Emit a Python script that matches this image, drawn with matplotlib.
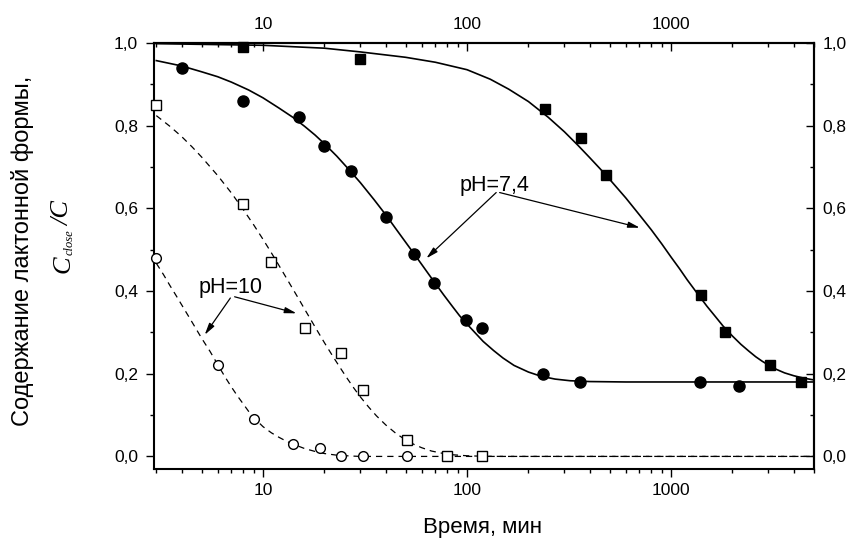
import matplotlib
matplotlib.use("Agg")
import matplotlib.pyplot as plt
from matplotlib.ticker import LogLocator, FixedLocator, FuncFormatter, NullFormatter

plt.rcParams["font.family"] = ["Liberation Sans", "DejaVu Sans"]

# measured points, pH=7.4 (filled) and pH=10 (open)
sq_filled_t = [8, 30, 240, 360, 480, 1400, 1830, 3050, 4330]
sq_filled_c = [0.99, 0.96, 0.84, 0.77, 0.68, 0.39, 0.30, 0.22, 0.18]

ci_filled_t = [4, 8, 15, 20, 27, 40, 55, 69, 99, 119, 237, 356, 1390, 2160]
ci_filled_c = [0.94, 0.86, 0.82, 0.75, 0.69, 0.58, 0.49, 0.42, 0.33, 0.31, 0.20, 0.18, 0.18, 0.17]

sq_open_t = [3, 8, 11, 16, 24, 31, 51, 80, 119]
sq_open_c = [0.85, 0.61, 0.47, 0.31, 0.25, 0.16, 0.04, 0.0, 0.0]

ci_open_t = [3, 6, 9, 14, 19, 24, 31, 51]
ci_open_c = [0.48, 0.22, 0.09, 0.03, 0.02, 0.0, 0.0, 0.0]

# fitted curves
fit_sq_filled_t = [3, 10, 20, 30, 50, 70, 100, 130, 160, 200, 250, 300, 350, 400, 450, 500,
                   600, 700, 800, 900, 1000, 1100, 1200, 1350, 1500, 1650, 1800, 2000, 2200,
                   2400, 2600, 2800, 3000, 3300, 3600, 4000, 4500, 5000]
fit_sq_filled_c = [0.998, 0.994, 0.987, 0.978, 0.965, 0.953, 0.935, 0.912, 0.888, 0.858,
                   0.820, 0.785, 0.752, 0.722, 0.695, 0.670, 0.625, 0.584, 0.548, 0.514,
                   0.482, 0.454, 0.427, 0.393, 0.363, 0.338, 0.315, 0.291, 0.271, 0.255,
                   0.241, 0.230, 0.221, 0.210, 0.202, 0.195, 0.189, 0.185]

fit_ci_filled_t = [3, 4, 5, 6, 7, 8.5, 10, 12, 14, 16, 18, 20, 23, 26, 30, 35, 40, 45, 50,
                   55, 60, 65, 70, 77, 85, 92, 100, 110, 120, 135, 150, 170, 200, 230, 270,
                   320, 400, 600, 5000]
fit_ci_filled_c = [0.957, 0.944, 0.930, 0.918, 0.905, 0.886, 0.867, 0.842, 0.820, 0.798,
                   0.777, 0.756, 0.726, 0.697, 0.662, 0.621, 0.584, 0.549, 0.518, 0.490,
                   0.464, 0.440, 0.418, 0.390, 0.362, 0.340, 0.320, 0.298, 0.278, 0.256,
                   0.238, 0.220, 0.204, 0.194, 0.187, 0.183, 0.181, 0.180, 0.180]

fit_sq_open_t = [3, 3.5, 4, 4.5, 5, 6, 7, 8, 9, 10, 11, 12, 13, 14, 15, 16, 18, 20, 22, 24,
                 26, 28, 30, 33, 36, 40, 45, 50, 55, 60, 67, 75, 85, 100, 120, 150, 5000]
fit_sq_open_c = [0.824, 0.798, 0.773, 0.748, 0.724, 0.679, 0.637, 0.597, 0.560, 0.525,
                 0.492, 0.461, 0.432, 0.405, 0.380, 0.356, 0.313, 0.275, 0.242, 0.213,
                 0.187, 0.164, 0.144, 0.119, 0.098, 0.076, 0.055, 0.040, 0.029, 0.021,
                 0.013, 0.008, 0.004, 0.0016, 0.0004, 0.0, 0.0]

fit_ci_open_t = [3, 3.25, 3.5, 3.75, 4, 4.5, 5, 5.5, 6, 6.5, 7, 7.5, 8, 8.5, 9, 10, 11, 12,
                 13, 14, 16, 18, 20, 23, 27, 30, 40, 5000]
fit_ci_open_c = [0.467, 0.440, 0.413, 0.389, 0.366, 0.324, 0.286, 0.254, 0.222, 0.193,
                 0.168, 0.146, 0.127, 0.109, 0.094, 0.072, 0.057, 0.046, 0.037, 0.030,
                 0.019, 0.012, 0.007, 0.003, 0.001, 0.0, 0.0, 0.0]

major_t = [10, 100, 1000]
major_c = [0.0, 0.2, 0.4, 0.6, 0.8, 1.0]
minor_c = [0.1, 0.3, 0.5, 0.7, 0.9]

fig = plt.figure(figsize=(8.52, 5.42), dpi=100)
ax = fig.add_axes([0.181, 0.135, 0.774, 0.786])

ax.plot(fit_sq_filled_t, fit_sq_filled_c, color="black", lw=1.2, zorder=2)
ax.plot(fit_ci_filled_t, fit_ci_filled_c, color="black", lw=1.2, zorder=2)
ax.plot(fit_sq_open_t, fit_sq_open_c, color="black", lw=0.9, dashes=(5, 4), zorder=2)
ax.plot(fit_ci_open_t, fit_ci_open_c, color="black", lw=0.9, dashes=(5, 4), zorder=2)

ax.plot(sq_filled_t, sq_filled_c, "s", color="black", ms=7.5, ls="none", clip_on=False, zorder=3)
ax.plot(ci_filled_t, ci_filled_c, "o", color="black", ms=8, ls="none", clip_on=False, zorder=3)
ax.plot(sq_open_t, sq_open_c, "s", mfc="white", mec="black", mew=1.0, ms=6.5, ls="none",
        clip_on=False, zorder=3)
ax.plot(ci_open_t, ci_open_c, "o", mfc="white", mec="black", mew=1.0, ms=7, ls="none",
        clip_on=False, zorder=3)

ax.set_xscale("log")
ax.set_xlim(2.93, 5000)
ax.set_ylim(-0.03, 1.0)

comma = FuncFormatter(lambda v, p: f"{v:.1f}".replace(".", ","))
intfmt = FuncFormatter(lambda v, p: f"{v:g}")


def style_x(axis):
    axis.set_major_locator(FixedLocator(major_t))
    axis.set_minor_locator(LogLocator(base=10, subs=range(2, 10), numticks=20))
    axis.set_major_formatter(intfmt)
    axis.set_minor_formatter(NullFormatter())


def style_y(axis):
    axis.set_major_locator(FixedLocator(major_c))
    axis.set_minor_locator(FixedLocator(minor_c))
    axis.set_major_formatter(comma)


style_x(ax.xaxis)
style_y(ax.yaxis)
ax.tick_params(which="both", direction="out", width=1.0, labelsize=12.5,
               top=False, right=False)
ax.tick_params(which="major", length=5.5)
ax.tick_params(which="minor", length=3.2)
ax.tick_params(axis="x", pad=5)
ax.tick_params(axis="y", pad=6)
for s in ax.spines.values():
    s.set_linewidth(1.5)

top = ax.secondary_xaxis("top")
style_x(top.xaxis)
top.tick_params(which="both", direction="in", width=1.0, labelsize=12.5, pad=8)
top.tick_params(which="major", length=5.5)
top.tick_params(which="minor", length=3.2)
top.spines["top"].set_linewidth(1.5)

right = ax.secondary_yaxis("right")
style_y(right.yaxis)
right.tick_params(which="both", direction="in", width=1.0, labelsize=12.5, pad=6.5)
right.tick_params(which="major", length=5.5)
right.tick_params(which="minor", length=3.2)
right.spines["right"].set_linewidth(1.5)

fig.text(0.5665, 0.026, "Время, мин", fontsize=16, ha="center", va="center")
fig.text(0.026, 0.537, "Содержание лактонной формы,", rotation=90, fontsize=17,
         ha="center", va="center")

# second line of the y label: C_close /C (large C, small subscript)
serif = dict(family="Liberation Serif", style="italic", rotation=90, ha="center", va="center")
fig.text(63.5 / 852, 1 - 264 / 542, "C", fontsize=19, **serif)
fig.text(70 / 852, 1 - 242 / 542, "close", fontsize=9, **serif)
fig.text(63.5 / 852, 1 - 214 / 542, "/C", fontsize=19, **serif)

arrow = dict(arrowstyle="-|>,head_length=0.7,head_width=0.18", color="black", lw=0.9,
             shrinkA=0, shrinkB=0)
ax.text(137, 0.656, "pH=7,4", fontsize=15.5, ha="center", va="center")
ax.annotate("", xy=(63.2, 0.479), xytext=(139, 0.638), arrowprops=arrow)
ax.annotate("", xy=(703, 0.553), xytext=(144.5, 0.638), arrowprops=arrow)

ax.text(6.9, 0.409, "pH=10", fontsize=15.5, ha="center", va="center")
ax.annotate("", xy=(5.18, 0.294), xytext=(6.92, 0.383), arrowprops=arrow)
ax.annotate("", xy=(14.6, 0.346), xytext=(7.26, 0.386), arrowprops=arrow)

fig.savefig("out.png", dpi=100, facecolor="white")
